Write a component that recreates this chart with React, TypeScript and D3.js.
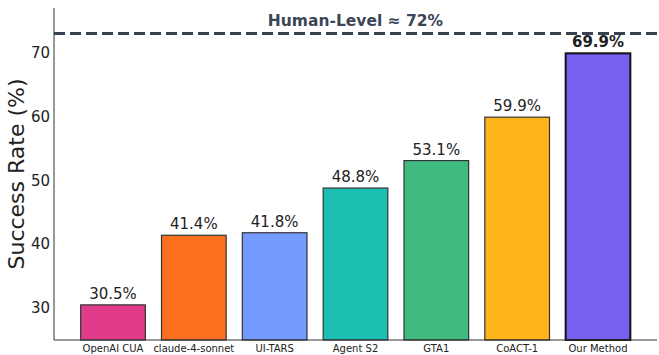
import React from "react";
import * as d3 from "d3";

const categories = ["OpenAI CUA", "claude-4-sonnet", "UI-TARS", "Agent S2", "GTA1", "CoACT-1", "Our Method"];
const values = [30.5, 41.4, 41.8, 48.8, 53.1, 59.9, 69.9];
const colors = ["#e03c8a", "#fd7020", "#739bff", "#1bbfb2", "#40bb80", "#ffb61c", "#7760ef"];
const yTicks = [30, 40, 50, 60, 70];
const humanLevel = 73;
const humanLabel = "Human-Level ≈ 72%";

const W = 659;
const H = 355;
const left = 54;
const right = 657;
const top = 8;
const bottom = 340;

export default function App() {
  const x = d3.scaleLinear().domain([-0.73, categories.length - 1 + 0.73]).range([left, right]);
  const y = d3.scaleLinear().domain([25, 77]).range([bottom, top]);
  const bw = (x(1) - x(0)) * 0.8;
  const font = "DejaVu Sans, sans-serif";
  const last = categories.length - 1;
  return (
    <svg width={W} height={H} style={{ position: "absolute", left: 0, top: 0 }} fontFamily={font}>
      <rect width={W} height={H} fill="#fff" />
      {values.map((v, i) => (
        <rect
          key={i}
          x={x(i) - bw / 2}
          y={y(v)}
          width={bw}
          height={y(25) - y(v)}
          fill={colors[i]}
          stroke={i === last ? "#111" : "#333"}
          strokeWidth={i === last ? 2 : 1.2}
        />
      ))}
      {values.map((v, i) => (
        <text
          key={"t" + i}
          x={x(i)}
          y={y(v) - 6}
          textAnchor="middle"
          fontSize={15}
          fill="#222"
          fontWeight={i === last ? "bold" : "normal"}
        >
          {v.toFixed(1)}%
        </text>
      ))}
      <line
        x1={left}
        x2={right}
        y1={y(humanLevel)}
        y2={y(humanLevel)}
        stroke="#3a4252"
        strokeWidth={3}
        strokeDasharray="11,5"
      />
      <text x={(left + right) / 2} y={26} textAnchor="middle" fontSize={15.5} fontWeight="bold" fill="#3a4556">
        {humanLabel}
      </text>
      <line x1={left} x2={left} y1={top} y2={bottom} stroke="#333" strokeWidth={1} />
      <line x1={left} x2={right} y1={bottom} y2={bottom} stroke="#333" strokeWidth={1} />
      {yTicks.map((t) => (
        <text key={t} x={left - 4} y={y(t)} dy="0.35em" textAnchor="end" fontSize={15} fill="#222">
          {t}
        </text>
      ))}
      {categories.map((c, i) => (
        <text key={c} x={x(i)} y={352} textAnchor="middle" fontSize={10} fill="#222">
          {c}
        </text>
      ))}
      <text
        transform={`translate(24,${(top + bottom) / 2}) rotate(-90)`}
        textAnchor="middle"
        fontSize={22}
        fill="#222"
      >
        Success Rate (%)
      </text>
    </svg>
  );
}
